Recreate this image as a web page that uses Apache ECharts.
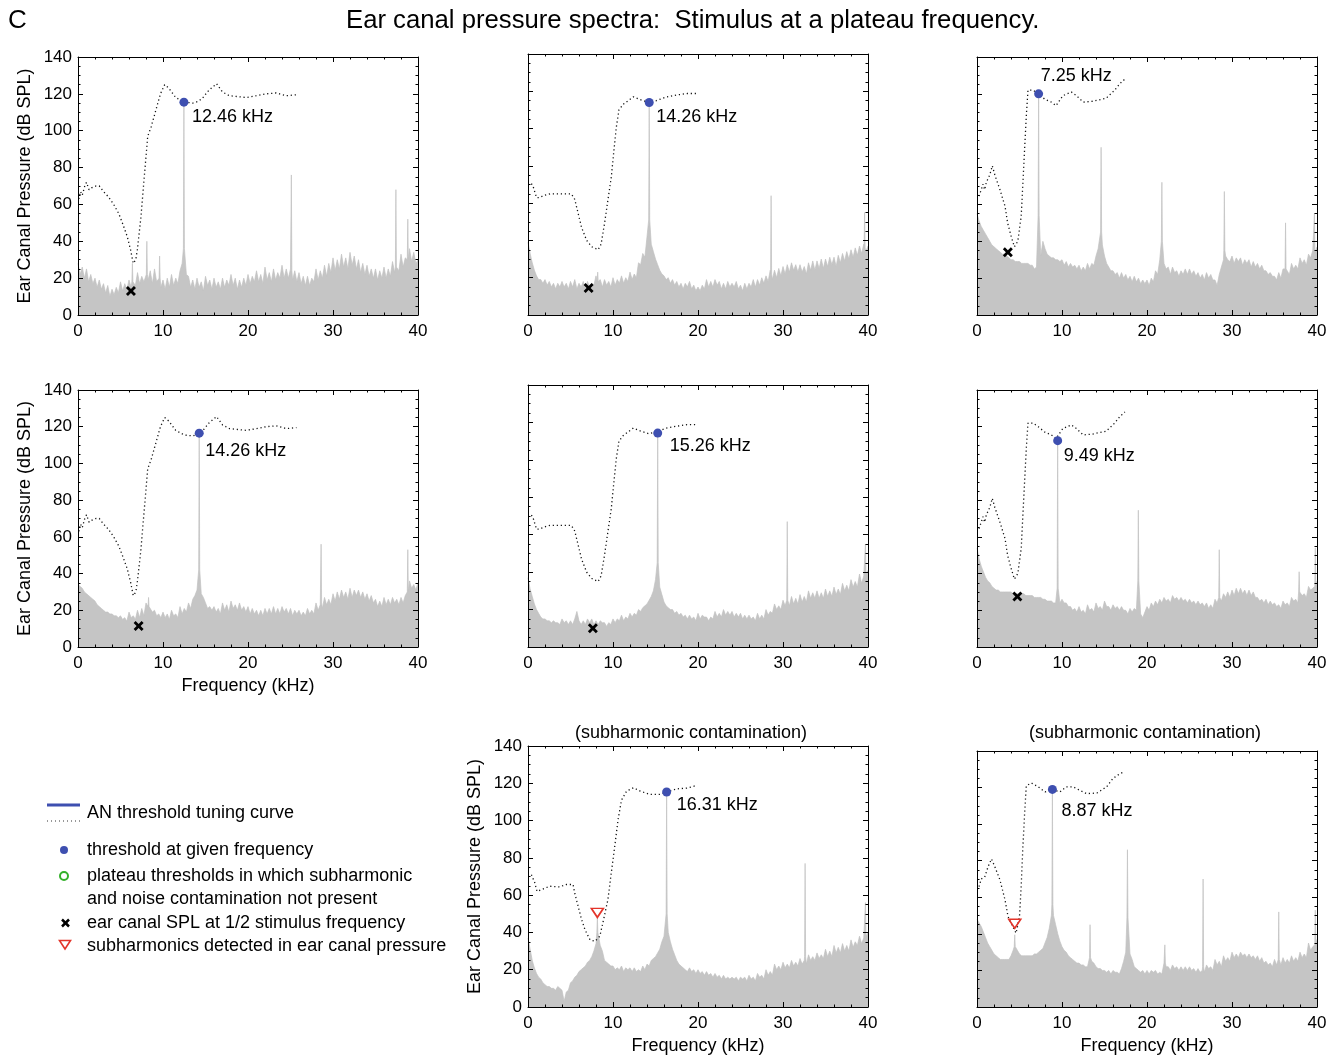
<!DOCTYPE html>
<html><head><meta charset="utf-8">
<script src="https://cdn.jsdelivr.net/npm/echarts@6/dist/echarts.min.js"></script>
<style>html,body{margin:0;padding:0;background:#fff}#c{width:1344px;height:1057px}</style>
</head><body><div id="c"></div><script>
// ---------- DATA ----------
const freqGrid = [0,0.25,0.5,0.75,1,1.25,1.5,1.75,2,2.25,2.5,2.75,3,3.25,3.5,3.75,4,4.25,4.5,4.75,
  5,5.25,5.5,5.75,6,6.25,6.5,6.75,7,7.25,7.5,7.75,8,8.25,8.5,8.75,9,9.25,9.5,9.75,
  10,10.25,10.5,10.75,11,11.25,11.5,11.75,12,12.25,12.5,12.75,13,13.25,13.5,13.75,14,14.25,14.5,14.75,
  15,15.25,15.5,15.75,16,16.25,16.5,16.75,17,17.25,17.5,17.75,18,18.25,18.5,18.75,19,19.25,19.5,19.75,
  20,20.25,20.5,20.75,21,21.25,21.5,21.75,22,22.25,22.5,22.75,23,23.25,23.5,23.75,24,24.25,24.5,24.75,
  25,25.25,25.5,25.75,26,26.25,26.5,26.75,27,27.25,27.5,27.75,28,28.25,28.5,28.75,29,29.25,29.5,29.75,
  30,30.25,30.5,30.75,31,31.25,31.5,31.75,32,32.25,32.5,32.75,33,33.25,33.5,33.75,34,34.25,34.5,34.75,
  35,35.25,35.5,35.75,36,36.25,36.5,36.75,37,37.25,37.5,37.75,38,38.25,38.5,38.75,39,39.25,39.5,39.75,
  40];
const xTicks = [0,10,20,30,40];
const yTicks = [0,20,40,60,80,100,120,140];

// ear canal noise floor (dB SPL) on freqGrid
const floor1 = [28,22,26,20,25,18,22,17,20,15,19,14,17,12,16,10,14,11,15,12,
  18,13,17,14,19,15,20,16,23,17,21,18,26,19,24,17,25,18,22,15,
  19,14,20,15,22,16,20,17,24,28,30,22,21,15,19,14,20,15,18,13,
  21,16,19,14,20,15,18,14,20,15,19,16,22,16,20,14,19,15,20,16,
  22,17,21,18,24,18,22,17,26,19,23,18,25,19,23,20,27,20,25,20,
  25,19,24,18,23,17,21,16,21,16,20,18,25,19,24,20,27,21,28,23,
  31,24,30,25,33,26,31,25,34,27,32,25,30,23,28,22,27,21,25,20,
  25,19,24,20,26,20,25,21,29,23,27,24,33,26,31,27,36,29,34,28,
  30];
const floor2 = [39,33,28,24,21,19,19,17,19,16,18,15,17,14,17,15,18,15,17,14,
  18,15,19,14,17,15,18,14,18,15,17,16,21,17,19,15,19,16,18,15,
  20,16,19,17,21,17,20,18,23,19,22,20,28,27,33,31,42,44,38,34,
  30,27,24,22,21,19,20,17,19,16,18,15,17,14,17,15,18,14,16,13,
  15,13,16,14,19,15,18,15,19,16,18,14,17,14,18,15,17,15,18,14,
  16,13,17,14,17,15,19,15,19,16,20,17,21,18,24,19,24,20,25,21,
  26,22,27,23,28,24,27,23,27,23,26,22,28,24,29,24,29,25,30,25,
  30,26,31,27,31,26,32,28,33,29,34,30,35,31,36,32,37,33,38,34,
  37];
const floor3 = [55,51,48,46,44,42,40,38,37,36,35,34,33,33,32,31,30,30,29,29,
  29,28,28,28,28,27,27,25,26,28,32,40,36,33,32,31,31,30,30,29,
  30,27,29,26,28,26,27,25,27,24,26,24,28,25,28,27,32,36,40,38,
  32,28,26,24,24,22,23,20,23,20,22,19,21,18,21,18,20,17,19,17,
  19,16,20,18,24,22,30,28,28,25,26,22,26,23,24,21,24,22,25,22,
  25,22,24,21,23,20,22,19,23,20,22,19,19,16,22,26,30,32,30,29,
  32,28,31,29,31,27,30,28,30,26,29,26,28,25,27,24,24,22,23,21,
  21,19,23,20,25,22,24,22,28,25,27,25,31,28,30,27,33,31,35,33,
  37];
const floor4 = [34,33,32,30,29,28,27,26,25,23,22,21,20,19,19,18,18,17,17,16,
  17,15,16,14,19,16,17,15,20,16,21,17,24,19,22,19,20,17,18,16,
  19,16,18,15,20,17,18,16,22,18,21,19,24,21,26,28,31,38,29,27,
  24,21,22,20,22,19,21,18,24,20,23,19,25,21,23,20,24,20,22,19,
  22,18,21,18,20,17,20,17,21,18,21,18,22,18,21,18,22,19,21,18,
  21,17,20,18,20,17,19,17,21,18,20,18,24,20,23,21,27,23,26,23,
  29,25,30,26,31,27,30,26,32,27,31,28,31,27,30,26,29,25,28,24,
  26,22,25,22,27,23,26,23,27,24,26,23,27,24,28,25,36,32,34,31,
  35];
const floor5 = [37,31,27,23,20,18,16,15,15,14,14,13,14,13,13,12,15,13,14,12,
  14,12,15,19,14,12,14,12,15,13,15,12,14,12,14,13,13,11,13,12,
  15,13,15,14,17,14,16,15,18,16,18,17,20,19,21,22,23,25,27,30,
  36,40,32,28,24,22,21,20,20,18,19,17,18,16,17,15,17,15,16,14,
  18,15,17,16,16,14,16,15,19,16,18,16,20,17,19,17,19,16,18,16,
  18,15,17,15,17,15,16,14,18,15,17,15,20,17,19,18,23,20,22,20,
  25,22,24,22,27,23,26,23,28,24,27,24,30,26,29,26,30,26,29,26,
  31,27,30,27,32,28,31,28,34,30,33,30,36,32,35,32,39,34,38,35,
  41];
const floor6 = [54,48,44,41,38,36,35,33,32,31,31,30,30,30,30,30,30,29,29,29,
  29,29,29,28,28,28,28,27,27,27,27,26,26,25,25,25,24,24,24,24,
  26,24,24,22,22,20,21,19,22,19,20,18,23,20,21,19,24,21,22,20,
  25,22,22,20,23,21,22,20,22,20,20,18,21,19,21,20,20,18,16,19,
  22,20,24,22,25,23,26,24,27,25,26,24,28,26,27,25,27,25,26,24,
  26,24,25,23,25,23,24,22,24,21,23,21,26,24,27,25,29,27,30,27,
  31,28,32,29,32,29,31,28,31,28,30,27,27,25,26,24,26,23,25,23,
  24,22,23,21,25,23,24,22,27,25,26,24,30,28,29,27,33,31,32,30,
  36];
const floor7 = [37,31,25,21,18,16,15,13,12,11,11,10,10,9,11,10,9,3,8,9,
  13,14,16,17,19,20,21,22,24,25,27,30,34,40,33,30,25,24,23,22,
  22,20,21,20,22,19,21,20,21,19,21,19,20,19,22,20,23,22,25,26,
  27,29,31,35,38,44,40,35,31,28,25,23,22,21,20,19,21,19,20,18,
  20,18,19,17,19,17,18,16,18,16,17,15,17,15,16,15,16,15,16,14,
  16,15,16,14,17,15,16,14,18,16,17,15,20,17,19,17,23,20,22,20,
  24,21,23,21,25,22,24,22,26,23,25,23,28,25,27,25,29,26,28,26,
  31,27,30,27,33,29,32,29,34,30,33,30,36,32,35,33,38,34,37,35,
  40];
const floor8 = [48,46,44,41,38,35,33,31,29,28,27,26,26,26,26,26,28,31,36,31,
  29,28,28,28,28,28,28,29,29,30,31,32,35,38,43,50,50,45,40,36,
  33,31,30,28,27,26,25,24,24,23,23,22,22,21,25,24,22,21,21,20,
  20,19,20,18,20,19,19,18,21,25,30,38,29,26,22,21,20,19,20,18,
  20,18,20,19,20,18,19,18,24,22,22,20,23,21,22,20,22,20,22,20,
  22,20,21,19,21,19,20,19,23,21,22,20,26,23,25,22,28,25,27,25,
  30,27,29,27,30,28,29,27,29,27,28,26,28,25,27,24,25,23,24,22,
  26,23,25,23,27,24,26,24,28,25,27,25,30,27,29,27,35,31,33,31,
  37];

// spectral lines: [frequency kHz, peak dB, base dB]
const peaks1 = [[6.4,28,18],[8.1,40,22],[9.6,32,20],[12.46,115.5,36],[25.1,76,24],[37.4,68,26],[38.8,52,30]];
const peaks2 = [[8.2,23,18],[14.26,114,51],[28.6,64,22],[39.6,55,36]];
const peaks3 = [[7.25,120,54],[14.6,91,45],[21.75,72,40],[29.1,67,35],[36.3,50,25],[39.7,55,34]];
const peaks4 = [[8.3,27,22],[14.26,116.5,42],[28.6,56,24],[38.8,53,30]];
const peaks5 = [[15.26,114.3,45],[30.5,67,25],[39.7,55,39]];
const peaks6 = [[9.49,112.4,32],[18.98,74.5,36],[28.5,53,27],[37.9,41,30],[39.8,54,33]];
const peaks7 = [[8.16,48,40],[16.31,115.3,50],[32.6,77,27],[39.7,56,38]];
const peaks8 = [[4.44,39.5,33],[8.87,119,56],[13.3,45,27],[17.7,86,49],[22.1,34,24],[26.6,70,22],[35.5,52,26],[39.8,53,34]];

// AN threshold tuning curves [kHz, dB SPL]
const tuningA = [[0.1,63],[0.3,67],[0.5,65],[0.8,70],[1.0,72],[1.3,68],[1.6,69],[2.1,70],[2.5,70],[3.0,67],[3.6,64],[4.2,60],[4.8,55],[5.3,49],[5.8,42.5],[6.2,35],[6.5,28],[6.8,30],[7.0,36],[7.4,53],[7.8,75],[8.2,97],[8.6,102],[9.15,111],[9.7,120],[10.2,125],[10.7,123],[11.5,118],[12.5,115.5],[13.5,115],[14.2,116],[14.7,118],[15.4,122],[16.3,125.5],[17,121],[17.8,119],[19.8,118],[21,119],[22.1,120],[23.3,120.5],[24.5,119],[25.7,119.5]];
const tuningB = [[0.4,70.5],[0.6,69],[1.0,63],[1.4,63],[1.8,64],[2.6,65],[3.3,65],[4.1,65],[5.1,65],[5.5,62],[5.9,54.5],[6.3,47],[6.9,40],[7.5,36.6],[8.25,35],[8.6,38],[9.0,49],[9.4,61.6],[9.8,74],[10.1,88],[10.4,101],[10.7,110],[11.2,113],[11.8,115],[12.4,117],[13.2,115.5],[14.2,114],[15.1,115],[16.3,117],[17.5,118],[18.7,118.8],[19.8,118.8]];
const tuningC = [[0.24,64.5],[0.5,68],[0.7,71],[0.9,68],[1.1,72],[1.5,76],[1.8,81],[2.1,76],[2.7,68],[3.3,59],[3.6,50],[4.0,43],[4.4,37],[4.8,40],[5.2,53.6],[5.4,72],[5.6,90],[5.8,108],[6.0,122],[6.6,122],[7.2,120],[8.0,117],[8.75,115.5],[9.3,113.6],[10.1,119],[11.1,121],[11.7,119],[12.5,115.5],[13.6,116],[15.2,117.6],[16.2,122],[16.8,125.5],[17.4,128]];
const tuningD = [[0.24,65.8],[0.5,70],[0.9,71],[1.3,76.7],[1.7,81],[2.1,76.7],[2.7,69.5],[3.3,58.5],[3.65,49.5],[4.2,44],[4.6,40.4],[5.0,49.5],[5.2,65.8],[5.4,87.6],[5.6,106],[5.8,121],[6.4,122.5],[7.2,120.4],[8.0,117.6],[8.84,118.9],[9.75,117.6],[10.5,120.4],[11.3,120.4],[12.1,118.5],[12.9,116.7],[14.1,117],[15.25,120.4],[16.0,125],[16.8,127.6],[17.3,128.5]];
const tuningE = [[0.4,71],[0.8,66.6],[1.06,62],[1.6,63],[2.55,64.8],[3.7,64.4],[4.5,65.7],[5.3,65.7],[5.5,61],[5.9,54],[6.3,47],[6.7,41.5],[7.3,36],[7.9,35.3],[8.45,38],[8.9,47],[9.4,57.6],[9.8,72],[10.2,86],[10.6,100.6],[11.0,111],[11.6,115.8],[12.4,117.6],[13.2,115.8],[14.35,114],[15.5,114],[16.3,115.3],[17.5,117],[18.7,117.4],[19.86,118.9]];

// thresholds at stimulus frequency
const thresholds = [[12.46,115.5],[14.26,114],[7.25,120],[14.26,116.5],[15.26,114.3],[9.49,112.4],[16.31,115.3],[8.87,119]];
const thresholdLabels = ['12.46 kHz','14.26 kHz','7.25 kHz','14.26 kHz','15.26 kHz','9.49 kHz','16.31 kHz','8.87 kHz'];
// ear canal SPL at half stimulus frequency
const halfFreqMarks = [[6.23,13],[7.13,14.5],[3.63,34],[7.13,11.5],[7.63,10],[4.75,27.5],[8.16,50.5],[4.44,45.5]];
const halfFreqKind = ['x','x','x','x','x','x','sub','sub'];

const floors = [floor1,floor2,floor3,floor4,floor5,floor6,floor7,floor8];
const peaksAll = [peaks1,peaks2,peaks3,peaks4,peaks5,peaks6,peaks7,peaks8];
const tunings = [tuningA,tuningB,tuningC,tuningA,tuningB,tuningC,tuningE,tuningD];

// ---------- LAYOUT ----------
const FONT = "'Liberation Sans', Arial, Helvetica, sans-serif";
const layout = [
  {left:78, top:57, bottom:315, yLab:true, lab:[8,15]},
  {left:528, top:54, bottom:315, lab:[7,15]},
  {left:977, top:57, bottom:315, lab:[2,-18]},
  {left:78, top:390, bottom:647, yLab:true, xName:true, lab:[6,18]},
  {left:528, top:385, bottom:647, lab:[12,13]},
  {left:977, top:390, bottom:647, lab:[6,15]},
  {left:528, top:746, bottom:1007, yLab:true, xName:true, lab:[10,13]},
  {left:977, top:751, bottom:1007, xName:true, lab:[9,22]}
];

function spectrum(floor, peaks) {
  const pts = [];
  freqGrid.forEach((f, i) => {
    if (peaks.some(p => Math.abs(p[0] - f) < 0.1)) return;
    pts.push([f, floor[i]]);
  });
  peaks.forEach(p => { pts.push([p[0] - 0.06, p[2]], [p[0], p[1]], [p[0] + 0.06, p[2]]); });
  pts.sort((a, b) => a[0] - b[0]);
  return pts;
}

const X_PATH = 'path://M0,2 L2,0 L5,3 L8,0 L10,2 L7,5 L10,8 L8,10 L5,7 L2,10 L0,8 L3,5 Z';
const TRI_PATH = 'path://M0,0 L12,0 L6,9 Z';

const grids = [], xAxes = [], yAxes = [], series = [];
const tickStyle = {color:'#000', width:1};
layout.forEach((L, i) => {
  grids.push({left:L.left, top:L.top, width:340, height:L.bottom - L.top, show:false});
  const base = {gridIndex:i, type:'value', min:xTicks[0], max:xTicks[xTicks.length-1], interval:xTicks[1]-xTicks[0], z:6,
    axisLine:{show:true, onZero:false, lineStyle:{color:'#000', width:1}}, splitLine:{show:false},
    axisTick:{show:true, inside:true, length:5, lineStyle:tickStyle},
    minorTick:{show:true, splitNumber:5, length:2.5, lineStyle:tickStyle}};
  xAxes.push(Object.assign({}, base, {position:'bottom',
    axisLabel:{show:true, fontSize:17, color:'#000', fontFamily:FONT, margin:8},
    name: L.xName ? 'Frequency (kHz)' : '', nameLocation:'middle', nameGap:30,
    nameTextStyle:{fontSize:18, color:'#000', fontFamily:FONT}}));
  xAxes.push(Object.assign({}, base, {position:'top', axisLabel:{show:false}}));
  const ybase = {gridIndex:i, type:'value', min:yTicks[0], max:yTicks[yTicks.length-1], interval:yTicks[1]-yTicks[0], z:6,
    axisLine:{show:true, onZero:false, lineStyle:{color:'#000', width:1}}, splitLine:{show:false},
    axisTick:{show:true, inside:true, length:5, lineStyle:tickStyle},
    minorTick:{show:true, splitNumber:4, length:2.5, lineStyle:tickStyle}};
  yAxes.push(Object.assign({}, ybase, {position:'left',
    axisLabel:{show:!!L.yLab, fontSize:17, color:'#000', fontFamily:FONT, margin:6},
    name: L.yLab ? 'Ear Canal Pressure (dB SPL)' : '', nameLocation:'middle', nameGap:44, nameRotate:90,
    nameTextStyle:{fontSize:18, color:'#000', fontFamily:FONT}}));
  yAxes.push(Object.assign({}, ybase, {position:'right', axisLabel:{show:false}}));

  const ax = {xAxisIndex:2*i, yAxisIndex:2*i};
  series.push(Object.assign({type:'line', data:spectrum(floors[i], peaksAll[i]), symbol:'none', silent:true, z:2,
    lineStyle:{color:'#c2c2c2', width:0.7}, areaStyle:{color:'#c5c5c5', opacity:1}}, ax));
  series.push(Object.assign({type:'line', data:tunings[i], symbol:'none', silent:true, z:3,
    lineStyle:{color:'#111', width:1.3, type:[1.2,2.8]}}, ax));
  series.push(Object.assign({type:'scatter', data:[thresholds[i]], symbol:'circle', symbolSize:9, z:5, silent:true,
    itemStyle:{color:'#3e4fb0', opacity:1},
    label:{show:true, formatter:thresholdLabels[i], position:[L.lab[0]+4.5, L.lab[1]+4.5], align:'left', verticalAlign:'middle',
      fontSize:18, color:'#000', opacity:1, fontFamily:FONT}}, ax));
  const kind = halfFreqKind[i];
  series.push(Object.assign({type:'scatter', data:[halfFreqMarks[i]], z:5, silent:true,
    symbol: kind === 'x' ? X_PATH : TRI_PATH, symbolSize: kind === 'x' ? 10 : [12,9],
    itemStyle: kind === 'x' ? {color:'#000', opacity:1} : {color:'rgba(0,0,0,0)', borderColor:'#e3342a', borderWidth:1.6, opacity:1}}, ax));
});

const txt = (text, x, y, size, align) => ({type:'text', style:{text, x, y, fill:'#000', font:`${size}px ${FONT}`,
  textAlign: align || 'left', textVerticalAlign:'middle', verticalAlign:'middle'}});

const graphic = [
  txt('C', 8, 21, 26),
  txt('Ear canal pressure spectra:  Stimulus at a plateau frequency.', 346, 21, 25.7),
  txt('(subharmonic contamination)', 691, 733, 18, 'center'),
  txt('(subharmonic contamination)', 1145, 733, 18, 'center'),
  {type:'line', shape:{x1:47, y1:805, x2:80, y2:805}, style:{stroke:'#3e4fb0', lineWidth:3}},
  {type:'line', shape:{x1:47, y1:821, x2:80, y2:821}, style:{stroke:'#333', lineWidth:1, lineDash:[1,3]}},
  txt('AN threshold tuning curve', 87, 813, 18),
  {type:'circle', shape:{cx:64, cy:850, r:4}, style:{fill:'#3e4fb0'}},
  txt('threshold at given frequency', 87, 850, 18),
  {type:'circle', shape:{cx:64, cy:876, r:4}, style:{fill:'none', stroke:'#33b02a', lineWidth:2}},
  txt('plateau thresholds in which subharmonic', 87, 876, 18),
  txt('and noise contamination not present', 87, 899, 18),
  {type:'line', shape:{x1:62, y1:919.5, x2:69, y2:926.5}, style:{stroke:'#000', lineWidth:2.5}},
  {type:'line', shape:{x1:69, y1:919.5, x2:62, y2:926.5}, style:{stroke:'#000', lineWidth:2.5}},
  txt('ear canal SPL at 1/2 stimulus frequency', 87, 923, 18),
  {type:'polygon', shape:{points:[[59.5,940.5],[70.5,940.5],[65,949]]}, style:{fill:'none', stroke:'#e3342a', lineWidth:1.6}},
  txt('subharmonics detected in ear canal pressure', 87, 946, 18)
];

const chart = echarts.init(document.getElementById('c'), null, {renderer:'canvas'});
chart.setOption({animation:false, backgroundColor:'#fff', grid:grids, xAxis:xAxes, yAxis:yAxes, series, graphic});
</script></body></html>
